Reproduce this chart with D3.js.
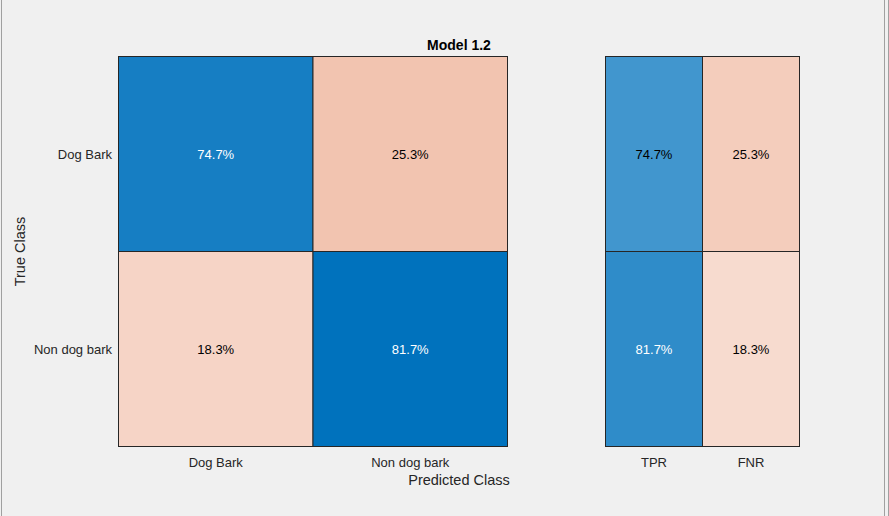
<!DOCTYPE html>
<html><head><meta charset="utf-8">
<script src="https://cdn.jsdelivr.net/npm/d3@7"></script>
<style>body{margin:0;background:#f0f0f0;}svg{display:block;font-family:"Liberation Sans",Arial,sans-serif;}</style>
</head><body>
<script>
const title = "Model 1.2";
const classes = ["Dog Bark", "Non dog bark"];
// row-normalized percentages [true][predicted]
const matrixValues = [[74.7, 25.3], [18.3, 81.7]];
const summaryLabels = ["TPR", "FNR"];
const summaryValues = [[74.7, 25.3], [81.7, 18.3]];

const W = 889, H = 516;
const svg = d3.select("body").append("svg").attr("width", W).attr("height", H);
svg.append("rect").attr("width", W).attr("height", H).attr("fill", "#f0f0f0");
[1.5, 884.5, 888.5].forEach(xv => svg.append("line").attr("x1", xv).attr("x2", xv).attr("y1", 0).attr("y2", H).attr("stroke", "#a0a0a0"));

const gridTop = 56.5, gridBottom = 446.5;
const x = d3.scaleBand().domain(classes).range([118.5, 507.5]);
const y = d3.scaleBand().domain(classes).range([gridTop, gridBottom]);
const xs = d3.scaleBand().domain(summaryLabels).range([605.5, 799.5]);

const blueMain = d3.scaleLinear().domain([0, 81.7]).range(["#ffffff", "#0072BD"]);
const orangeMain = d3.scaleLinear().domain([0, 74]).range(["#ffffff", "#D95319"]);
const blueSum = d3.scaleLinear().domain([0, 100]).range(["#ffffff", "#0072BD"]);
const orangeSum = d3.scaleLinear().domain([0, 87]).range(["#ffffff", "#D95319"]);

function textColor(c) {
  const rgb = d3.rgb(c);
  const l = 0.299 * rgb.r + 0.587 * rgb.g + 0.114 * rgb.b;
  return l < 120 ? "#ffffff" : "#000000";
}

const cells = [];
matrixValues.forEach((row, i) => row.forEach((v, j) => {
  cells.push({ x: x(classes[j]), y: y(classes[i]), w: x.bandwidth(), h: y.bandwidth(), v, fill: i === j ? blueMain(v) : orangeMain(v) });
}));
summaryValues.forEach((row, i) => row.forEach((v, j) => {
  cells.push({ x: xs(summaryLabels[j]), y: y(classes[i]), w: xs.bandwidth(), h: y.bandwidth(), v, fill: j === 0 ? blueSum(v) : orangeSum(v) });
}));

const g = svg.append("g");
g.selectAll("rect.cell").data(cells).join("rect").attr("class", "cell")
  .attr("x", d => d.x).attr("y", d => d.y).attr("width", d => d.w).attr("height", d => d.h)
  .attr("fill", d => d.fill).attr("stroke", "#262626").attr("stroke-width", 1);
g.selectAll("text.val").data(cells).join("text").attr("class", "val")
  .attr("x", d => d.x + d.w / 2).attr("y", d => d.y + d.h / 2 + 4.5)
  .attr("text-anchor", "middle").attr("font-size", 13)
  .attr("fill", d => textColor(d.fill)).text(d => d.v.toFixed(1) + "%");

g.selectAll("text.ytick").data(classes).join("text").attr("class", "ytick")
  .attr("x", 112).attr("y", d => y(d) + y.bandwidth() / 2 + 5)
  .attr("text-anchor", "end").attr("font-size", 13).attr("fill", "#262626").text(d => d);
g.selectAll("text.xtick").data(classes).join("text").attr("class", "xtick")
  .attr("x", d => x(d) + x.bandwidth() / 2).attr("y", 467)
  .attr("text-anchor", "middle").attr("font-size", 13).attr("fill", "#262626").text(d => d);
g.selectAll("text.stick").data(summaryLabels).join("text").attr("class", "stick")
  .attr("x", d => xs(d) + xs.bandwidth() / 2).attr("y", 467)
  .attr("text-anchor", "middle").attr("font-size", 13).attr("fill", "#262626").text(d => d);

const cx = (118.5 + 799.5) / 2;
svg.append("text").attr("x", cx).attr("y", 50).attr("text-anchor", "middle")
  .attr("font-size", 14).attr("font-weight", "bold").attr("fill", "#000").text(title);
svg.append("text").attr("x", cx).attr("y", 485).attr("text-anchor", "middle")
  .attr("font-size", 14.5).attr("fill", "#262626").text("Predicted Class");
svg.append("text").attr("transform", `translate(25,${(gridTop + gridBottom) / 2}) rotate(-90)`)
  .attr("text-anchor", "middle").attr("font-size", 14.5).attr("fill", "#262626").text("True Class");
</script>
</body></html>
